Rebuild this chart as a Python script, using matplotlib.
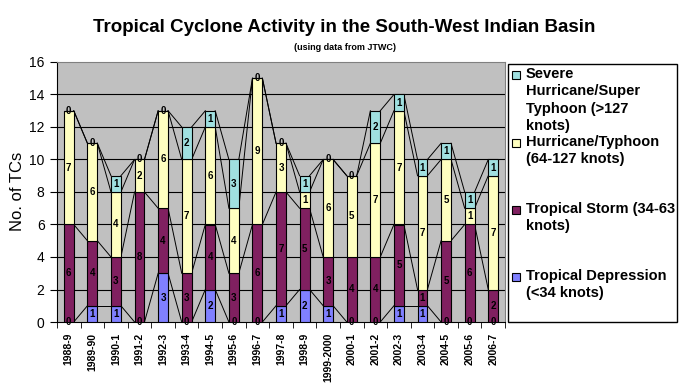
import matplotlib.pyplot as plt
from matplotlib.patches import Rectangle
import numpy as np

plt.rcParams['font.family'] = ['Liberation Sans', 'DejaVu Sans']

seasons = ["1988-9", "1989-90", "1990-1", "1991-2", "1992-3", "1993-4", "1994-5",
           "1995-6", "1996-7", "1997-8", "1998-9", "1999-2000", "2000-1", "2001-2",
           "2002-3", "2003-4", "2004-5", "2005-6", "2006-7"]
depression = [0, 1, 1, 0, 3, 0, 2, 0, 0, 1, 2, 1, 0, 0, 1, 1, 0, 0, 0]
storm = [6, 4, 3, 8, 4, 3, 4, 3, 6, 7, 5, 3, 4, 4, 5, 1, 5, 6, 2]
hurricane = [7, 6, 4, 2, 6, 7, 6, 4, 9, 3, 1, 6, 5, 7, 7, 7, 5, 1, 7]
severe = [0, 0, 1, 0, 0, 2, 1, 3, 0, 0, 1, 0, 0, 2, 1, 1, 1, 1, 1]

series = [depression, storm, hurricane, severe]
colors = ["#8080FF", "#802060", "#FFFFC0", "#A0E0E0"]
names = ["Tropical Depression\n(<34 knots)",
         "Tropical Storm (34-63\nknots)",
         "Hurricane/Typhoon\n(64-127 knots)",
         "Severe\nHurricane/Super\nTyphoon (>127\nknots)"]

W, H = 689, 389
fig = plt.figure(figsize=(W / 100, H / 100), dpi=100)
ax = fig.add_axes([57 / W, 1 - 322 / H, (505 - 57) / W, (322 - 62) / H])
ax.set_facecolor("#C0C0C0")

x = np.arange(len(seasons))
w = 0.42
bottom = np.zeros(len(seasons))
for vals, col in zip(series, colors):
    vals = np.array(vals)
    ax.bar(x, vals, w, bottom=bottom, color=col, edgecolor="black", linewidth=0.8, zorder=3)
    top = bottom + vals
    # series lines
    for j in range(len(x) - 1):
        ax.plot([x[j] + w / 2, x[j + 1] - w / 2], [top[j], top[j + 1]],
                color="black", lw=0.7, zorder=2)
    for j, v in enumerate(vals):
        yy = bottom[j] + v / 2 if v else bottom[j]
        ax.text(x[j], yy, str(v), ha="center", va="center", fontsize=7,
                fontweight="bold", color="black", zorder=4)
    bottom = top

ax.set_xlim(-0.5, len(seasons) - 0.5)
ax.set_ylim(0, 16)
ax.set_yticks(range(0, 17, 2))
ax.set_yticklabels([str(v) for v in range(0, 17, 2)], fontsize=10)
for v in range(2, 16, 2):
    ax.axhline(v, color="black", lw=0.8, zorder=1)
ax.set_xticks(x)
ax.set_xticklabels(seasons, rotation=90, fontsize=7.5, fontweight="bold")
ax.set_xticks(np.arange(-0.5, len(seasons)), minor=True)
ax.tick_params(axis="x", which="major", length=0, pad=8)
ax.tick_params(axis="x", which="minor", length=4, direction="out")
ax.tick_params(axis="y", length=5, direction="out", pad=4)
ax.spines["top"].set_color("#808080")
ax.spines["right"].set_color("#808080")

fig.text(18 / W, 1 - 191 / H, "No. of TCs", rotation=90, ha="center", va="center", fontsize=12)
fig.text(0.5, 1 - 27 / H, "Tropical Cyclone Activity in the South-West Indian Basin",
         ha="center", va="center", fontsize=13.5, fontweight="bold")
fig.text(0.5, 1 - 47 / H, "(using data from JTWC)", ha="center", va="center",
         fontsize=6.5, fontweight="bold")

# legend box drawn by hand, Excel style
fig.patches.append(Rectangle((508 / W, 1 - 322 / H), (677 - 508) / W, (322 - 64) / H,
                             transform=fig.transFigure, facecolor="white",
                             edgecolor="black", lw=1))
entry_y = [277, 210, 143, 75]
for yy, col, name in zip(entry_y, colors, names):
    fig.patches.append(Rectangle((512 / W, 1 - (yy + 4) / H), 8 / W, 8 / H,
                                 transform=fig.transFigure, facecolor=col,
                                 edgecolor="black", lw=0.8))
    fig.text(526 / W, 1 - (yy - 8) / H, name, ha="left", va="top", fontsize=10.5,
             fontweight="bold", linespacing=1.3)

fig.savefig("out.png", dpi=100)
